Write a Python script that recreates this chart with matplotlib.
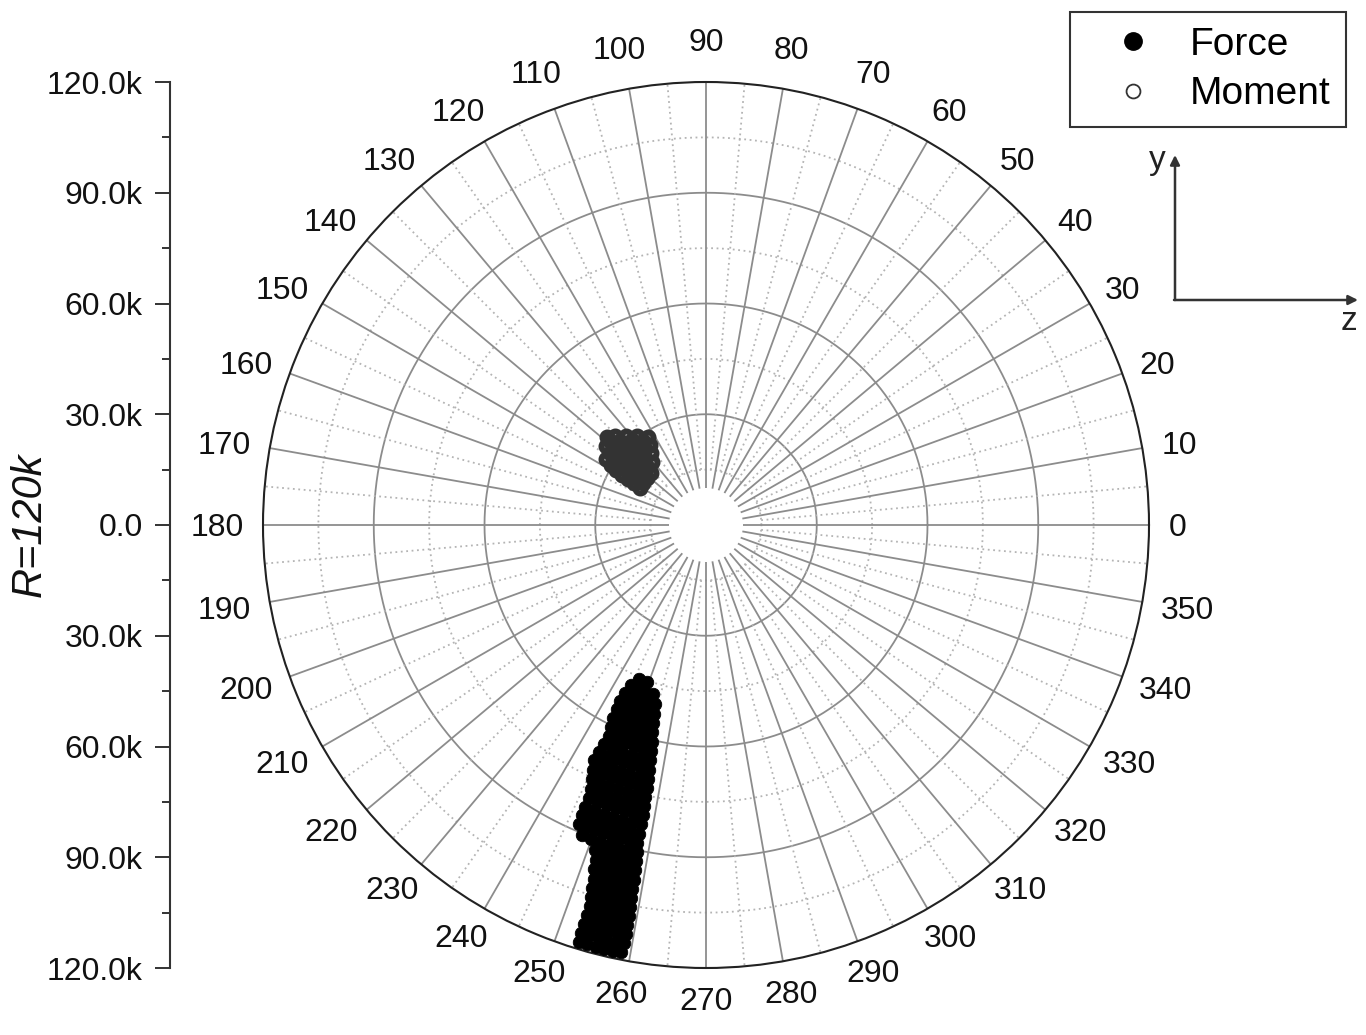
import numpy as np
import matplotlib
matplotlib.use('Agg')
import matplotlib.pyplot as plt
from matplotlib.lines import Line2D
from matplotlib.patches import FancyArrowPatch

plt.rcParams['font.family'] = ['Liberation Sans', 'DejaVu Sans']

# ---------------- data (angle in degrees, magnitude in k) ----------------
force_r_levels = [45.5, 48, 50.5, 53, 55.5, 58, 60.5, 63, 65.5, 68, 70.5, 73, 75.5, 78,
                  80.5, 83, 85.5, 88, 90.5, 93, 95.5, 98, 100.5, 103, 105.5, 108, 110.5,
                  113, 115.5, 118]
force_theta_rows = [
    [246.6, 249.6],
    [244.8, 247.4, 250.0, 252.6],
    [244.3, 246.7, 249.2, 251.6, 254.0],
    [244.0, 246.7, 249.3, 252.0, 254.7],
    [244.2, 246.4, 248.6, 250.7, 252.9, 255.1],
    [244.4, 246.6, 248.8, 251.1, 253.3, 255.5],
    [244.8, 247.0, 249.3, 251.5, 253.8, 256.0],
    [245.3, 247.5, 249.7, 252.0, 254.2, 256.4],
    [245.1, 247.4, 249.7, 252.1, 254.4, 256.7],
    [244.8, 246.8, 248.8, 250.9, 252.9, 254.9, 256.9],
    [244.5, 246.6, 248.7, 250.8, 252.9, 255.0, 257.1],
    [245.3, 247.3, 249.3, 251.3, 253.3, 255.3, 257.3],
    [245.8, 247.7, 249.7, 251.6, 253.5, 255.5, 257.4],
    [246.5, 248.4, 250.2, 252.1, 253.9, 255.8, 257.6],
    [246.9, 248.7, 250.5, 252.3, 254.1, 255.9, 257.7],
    [246.8, 248.6, 250.5, 252.3, 254.1, 256.0, 257.8],
    [246.8, 248.4, 249.9, 251.5, 253.1, 254.7, 256.2, 257.8],
    [246.9, 248.5, 250.0, 251.6, 253.1, 254.7, 256.2, 257.8],
    [248.3, 249.9, 251.5, 253.2, 254.8, 256.4, 258.0],
    [251.2, 252.6, 254.0, 255.4, 256.8, 258.2],
    [251.8, 253.1, 254.4, 255.7, 257.0, 258.3],
    [252.0, 253.3, 254.6, 255.9, 257.2, 258.5],
    [252.4, 253.6, 254.8, 256.1, 257.3, 258.5],
    [252.6, 253.8, 255.0, 256.2, 257.4, 258.6],
    [252.8, 254.0, 255.2, 256.3, 257.5, 258.7],
    [253.1, 254.2, 255.4, 256.5, 257.7, 258.8],
    [253.1, 254.3, 255.4, 256.6, 257.7, 258.9],
    [253.0, 254.2, 255.4, 256.6, 257.8, 259.0],
    [252.9, 254.1, 255.3, 256.5, 257.7, 258.9],
    [253.1, 254.2, 255.4, 256.5, 257.7, 258.8],
]

moment_r_levels = [20.5, 22.5, 24.5, 26.5, 28.5, 30.5, 32.5, 34.5, 36.0]
moment_theta_rows = [
    [137.0, 141.5, 146.0, 150.5],
    [130.9, 135.6, 140.4, 145.1, 149.8],
    [127.7, 132.1, 136.5, 140.8, 145.2, 149.6],
    [124.9, 128.9, 133.0, 137.0, 141.0, 145.1, 149.1],
    [123.3, 126.9, 130.5, 134.1, 137.7, 141.3, 144.9, 148.5],
    [127.7, 131.1, 134.4, 137.8, 141.1, 144.5, 147.8],
    [132.1, 135.7, 139.3, 142.9, 146.5],
    [135.6, 138.7, 141.8],
    [138.4],
]

series_names = ['Force', 'Moment']
theta_tick_deg = list(range(0, 360, 10))
theta_tick_labels = [str(d) for d in theta_tick_deg]
r_axis_ticks = [-120, -90, -60, -30, 0, 30, 60, 90, 120]
r_axis_labels = ['120.0k', '90.0k', '60.0k', '30.0k', '0.0', '30.0k', '60.0k', '90.0k', '120.0k']
r_title = 'R=120k'

# ---------------- figure ----------------
W, H = 1366, 1035
fig = plt.figure(figsize=(W / 100, H / 100), dpi=100)
cx, cy, R = 706, 525, 443
ax = fig.add_axes([(cx - R) / W, (H - cy - R) / H, 2 * R / W, 2 * R / H], projection='polar')

# grid (drawn manually so the centre stays open)
full = np.linspace(0, 2 * np.pi, 721)
for rr in [30, 60, 90]:
    ax.plot(full, np.full_like(full, rr), color='#8c8c8c', lw=1.3, zorder=1)
for rr in [15, 45, 75, 105]:
    ax.plot(full, np.full_like(full, rr), color='#b4b4b4', lw=1.3, ls=(0, (1, 2)), zorder=1)
ax.vlines(np.radians(theta_tick_deg), 10, 120, colors='#8c8c8c', lw=1.3, zorder=1)
ax.vlines(np.radians(np.arange(5, 360, 10)), 15, 120, colors='#b4b4b4', lw=1.3,
          linestyles=[(0, (1, 2))], zorder=1)

# data
f_theta = np.radians(np.concatenate([np.array(row) for row in force_theta_rows]))
f_r = np.concatenate([np.full(len(row), r) for r, row in zip(force_r_levels, force_theta_rows)])
m_theta = np.radians(np.concatenate([np.array(row) for row in moment_theta_rows]))
m_r = np.concatenate([np.full(len(row), r) for r, row in zip(moment_r_levels, moment_theta_rows)])

ax.plot(f_theta, f_r, ls='none', marker='o', ms=9, mfc='black', mec='black', mew=0.6, zorder=3)
ax.plot(m_theta, m_r, ls='none', marker='o', ms=7.2, mfc='none', mec='#333333', mew=4.3, zorder=4)

ax.set_ylim(0, 120)
ax.grid(False)
ax.set_yticks([])
ax.set_xticks(np.radians(theta_tick_deg))
ax.set_xticklabels([''] * len(theta_tick_deg))
ax.set_xticks(np.radians(np.arange(5, 360, 10)), minor=True)
ax.tick_params(axis='x', which='major', direction='in', length=8.6, width=1.2, color='#222222')
ax.tick_params(axis='x', which='minor', direction='in', length=4.3, width=1.2, color='#222222')
ax.spines['polar'].set_linewidth(1.5)
ax.spines['polar'].set_color('#222222')

# theta labels, placed edge-wise outside the circle
fs_t = 23
for d, lab in zip(theta_tick_deg, theta_tick_labels):
    t = np.radians(d)
    c, s = np.cos(t), np.sin(t)
    hw = len(lab) * 0.556 * fs_t / 2
    hh = 0.716 * fs_t / 2
    gap = 14 + 8 * max(0.0, s) ** 4
    ox = (gap + hw) * c
    oy = (gap + hh) * s - hh
    ax.annotate(lab, xy=(t, 120), xytext=(ox, oy), textcoords='offset points',
                ha='center', va='baseline', fontsize=fs_t, color='#111111',
                annotation_clip=False)

# left magnitude scale
ax2 = fig.add_axes([170 / W, (H - cy - R) / H, 0.0005, 2 * R / H])
ax2.set_ylim(-120, 120)
for sp in ['right', 'top', 'bottom']:
    ax2.spines[sp].set_visible(False)
ax2.spines['left'].set_linewidth(1.5)
ax2.spines['left'].set_color('#333333')
ax2.set_xticks([])
ax2.set_yticks(r_axis_ticks)
ax2.set_yticklabels(r_axis_labels)
ax2.set_yticks(np.arange(-105, 120, 30), minor=True)
ax2.tick_params(axis='y', which='major', length=10.8, width=1.4, pad=9, labelsize=23,
                color='#333333', labelcolor='#111111')
ax2.tick_params(axis='y', which='minor', length=5.8, width=1.4, color='#333333')
ax2.patch.set_visible(False)
fig.text(30 / W, 1 - 525 / H, r_title, rotation=90, fontsize=30, style='italic',
         ha='center', va='center', color='#111111')

# legend
handles = [Line2D([], [], ls='none', marker='o', ms=12.5, mfc='black', mec='black'),
           Line2D([], [], ls='none', marker='o', ms=10, mfc='white', mec='#333333', mew=1.3)]
leg = fig.legend(handles, series_names, loc='upper left',
                 bbox_to_anchor=(1070 / W, 1 - 12 / H), bbox_transform=fig.transFigure,
                 fontsize=28, frameon=True, fancybox=False, edgecolor='#333333',
                 borderpad=0.38, handlelength=2.5, handletextpad=0.21, labelspacing=0.35,
                 borderaxespad=0, framealpha=1)
leg.get_frame().set_linewidth(1.5)

# y / z direction inset
fig.add_artist(FancyArrowPatch(posA=(1175 / W, 1 - 300 / H), posB=(1175 / W, 1 - 155 / H),
                               transform=fig.transFigure, arrowstyle='-|>', mutation_scale=14,
                               color='#333333', lw=1.8, shrinkA=0, shrinkB=0))
fig.add_artist(FancyArrowPatch(posA=(1174 / W, 1 - 300 / H), posB=(1358 / W, 1 - 300 / H),
                               transform=fig.transFigure, arrowstyle='-|>', mutation_scale=14,
                               color='#333333', lw=1.8, shrinkA=0, shrinkB=0))
fig.text(1157 / W, 1 - 160 / H, 'y', fontsize=24, ha='center', va='center', color='#222222')
fig.text(1349 / W, 1 - 322 / H, 'z', fontsize=24, ha='center', va='center', color='#222222')

fig.savefig('out.png', dpi=100)
